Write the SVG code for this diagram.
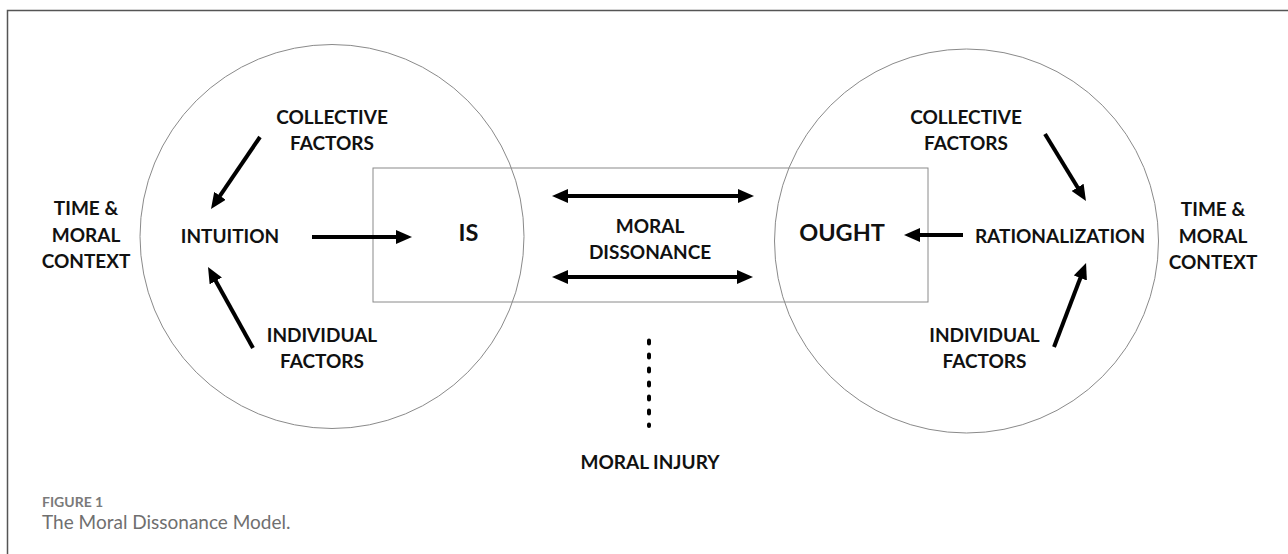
<svg xmlns="http://www.w3.org/2000/svg" width="1288" height="554" viewBox="0 0 1288 554">
<style>
.lbl{font-family:Lato,"Open Sans","Liberation Sans",sans-serif;font-weight:bold;font-size:19px;fill:#111;text-anchor:middle}
.big{font-size:23.5px}
.ring{fill:none;stroke:#8a8a8a;stroke-width:1}
.arr{stroke:#000;stroke-width:4;fill:none}
.cap1{font-family:Lato,"Open Sans","Liberation Sans",sans-serif;font-weight:bold;font-size:14px;fill:#7a7a7a}
.cap2{font-family:Lato,"Open Sans","Liberation Sans",sans-serif;font-size:19px;fill:#6f6f6f}
</style>
<defs>
<marker id="ah" markerUnits="userSpaceOnUse" markerWidth="16" markerHeight="14" refX="8" refY="7" orient="auto-start-reverse" viewBox="0 0 16 14">
<path d="M0,0 L16,7 L0,14 z" fill="#000"/>
</marker>
</defs>
<rect width="1288" height="554" fill="#fff"/>
<g id="frame" stroke="#555" stroke-width="1.5" fill="none">
<path d="M7.5,554 V10.5 H1288"/>
</g>
<g id="left-circle"><circle class="ring" cx="332" cy="236.5" r="192"/></g>
<g id="right-circle"><circle class="ring" cx="966.5" cy="241" r="192"/></g>
<g id="dissonance-box"><rect class="ring" x="373" y="168" width="555" height="134"/></g>

<g id="time-left"><text class="lbl"><tspan x="86" y="215">TIME &amp;</tspan><tspan x="86" y="242">MORAL</tspan><tspan x="86" y="268">CONTEXT</tspan></text></g>
<g id="time-right"><text class="lbl"><tspan x="1213" y="216">TIME &amp;</tspan><tspan x="1213" y="243">MORAL</tspan><tspan x="1213" y="269">CONTEXT</tspan></text></g>
<g id="collective-left"><text class="lbl"><tspan x="332" y="124">COLLECTIVE</tspan><tspan x="332" y="150">FACTORS</tspan></text></g>
<g id="individual-left"><text class="lbl"><tspan x="322" y="342">INDIVIDUAL</tspan><tspan x="322" y="368">FACTORS</tspan></text></g>
<g id="intuition"><text class="lbl" x="230" y="243">INTUITION</text></g>
<g id="is"><text class="lbl big" x="468.5" y="241">IS</text></g>
<g id="moral-dissonance"><text class="lbl"><tspan x="650" y="233">MORAL</tspan><tspan x="650" y="259">DISSONANCE</tspan></text></g>
<g id="ought"><text class="lbl big" x="842" y="241">OUGHT</text></g>
<g id="rationalization"><text class="lbl" x="1060" y="243">RATIONALIZATION</text></g>
<g id="collective-right"><text class="lbl"><tspan x="966" y="124">COLLECTIVE</tspan><tspan x="966" y="150">FACTORS</tspan></text></g>
<g id="individual-right"><text class="lbl"><tspan x="984.5" y="342">INDIVIDUAL</tspan><tspan x="984.5" y="368">FACTORS</tspan></text></g>
<g id="moral-injury"><text class="lbl" x="650" y="469">MORAL INJURY</text></g>

<g id="connectors">
<line class="arr" x1="312" y1="237" x2="404" y2="237" marker-end="url(#ah)"/>
<line class="arr" x1="260" y1="137" x2="215.5" y2="202.4" marker-end="url(#ah)"/>
<line class="arr" x1="253" y1="348" x2="211.9" y2="274" marker-end="url(#ah)"/>
<line class="arr" x1="560" y1="196" x2="746" y2="196" marker-start="url(#ah)" marker-end="url(#ah)"/>
<line class="arr" x1="560" y1="277" x2="745" y2="277" marker-start="url(#ah)" marker-end="url(#ah)"/>
<line class="arr" x1="1045" y1="134" x2="1081.8" y2="194.2" marker-end="url(#ah)"/>
<line class="arr" x1="963" y1="235" x2="912" y2="235" marker-end="url(#ah)"/>
<line class="arr" x1="1054" y1="347" x2="1083.2" y2="270.5" marker-end="url(#ah)"/>
<line x1="649" y1="340.5" x2="649" y2="426" stroke="#000" stroke-width="4" stroke-linecap="round" stroke-dasharray="3 11"/>
</g>

<g id="caption">
<text class="cap1" x="42" y="506.5">FIGURE 1</text>
<text class="cap2" x="42" y="529">The Moral Dissonance Model.</text>
</g>
</svg>
